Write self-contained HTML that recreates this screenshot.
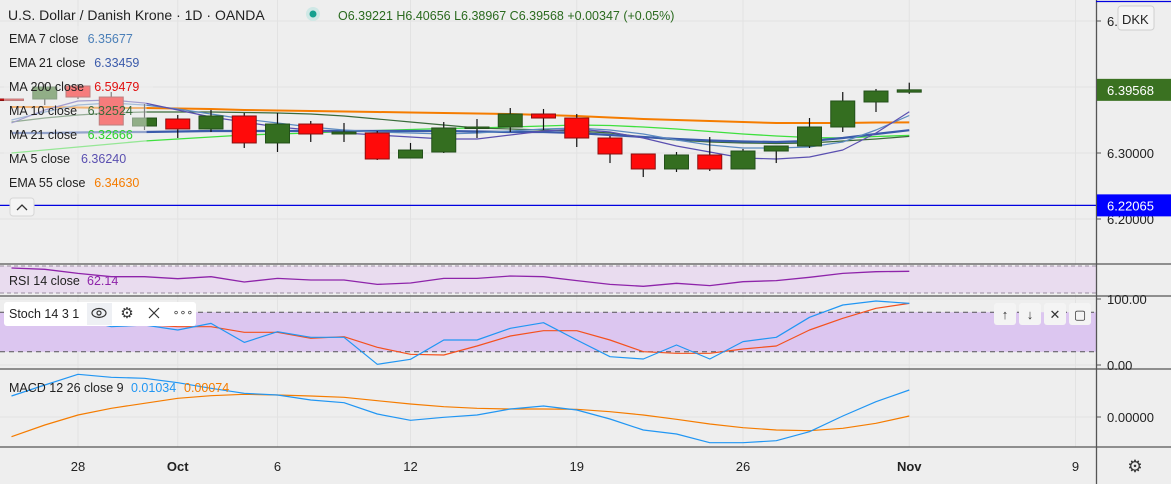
<!DOCTYPE html>
<html><head><meta charset="utf-8">
<style>
html,body{margin:0;padding:0;background:#eeeeee;}
body{width:1171px;height:484px;overflow:hidden;position:relative;font-family:"Liberation Sans","DejaVu Sans",sans-serif;}
svg{position:absolute;left:0;top:0;}
.t{font-family:"Liberation Sans","DejaVu Sans",sans-serif;}
</style></head>
<body>
<svg id="chart" width="1171" height="484" viewBox="0 0 1171 484" xmlns="http://www.w3.org/2000/svg"></svg>
<script>
// ---- data ----
const dates=["Sep 24","Sep 25","Sep 28","Sep 29","Sep 30","Oct 1","Oct 2","Oct 5","Oct 6","Oct 7","Oct 8","Oct 9","Oct 12","Oct 13","Oct 14","Oct 15","Oct 16","Oct 19","Oct 20","Oct 21","Oct 22","Oct 23","Oct 26","Oct 27","Oct 28","Oct 29","Oct 30","Nov 2"];
const opens=[6.3818,6.3818,6.4015,6.3848,6.3409,6.3515,6.3364,6.3561,6.3152,6.3439,6.3288,6.3303,6.2924,6.3015,6.3379,6.3394,6.3591,6.3530,6.3227,6.2985,6.2758,6.2970,6.2758,6.3030,6.3106,6.3394,6.3773,6.39221];
const highs=[6.3818,6.4045,6.4045,6.3924,6.3742,6.3576,6.3652,6.3606,6.3606,6.3485,6.3455,6.3333,6.3152,6.3470,6.3515,6.3682,6.3667,6.3591,6.3258,6.2985,6.3015,6.3242,6.3061,6.3106,6.3530,6.3924,6.3970,6.40656];
const lows=[6.3815,6.3727,6.3818,6.3424,6.3348,6.3227,6.3318,6.3076,6.3015,6.3167,6.3167,6.2894,6.2924,6.3000,6.3227,6.3318,6.3348,6.3091,6.2848,6.2636,6.2712,6.2727,6.2758,6.2848,6.3076,6.3318,6.3621,6.38967];
const closes=[6.3815,6.4000,6.3848,6.3424,6.3530,6.3364,6.3561,6.3152,6.3439,6.3288,6.3318,6.2909,6.3045,6.3379,6.3394,6.3591,6.3530,6.3227,6.2985,6.2758,6.2970,6.2758,6.3030,6.3106,6.3394,6.3788,6.3939,6.39568];
const ema55=[6.3697,6.3697,6.3689,6.3682,6.3682,6.3674,6.3667,6.3652,6.3644,6.3636,6.3629,6.3621,6.3614,6.3606,6.3598,6.3591,6.3576,6.3561,6.3538,6.3515,6.3500,6.3485,6.3470,6.3455,6.3455,6.3455,6.3462,6.3463];
const ma21=[6.3000,6.3045,6.3091,6.3136,6.3182,6.3212,6.3242,6.3273,6.3288,6.3303,6.3326,6.3341,6.3356,6.3371,6.3379,6.3394,6.3409,6.3424,6.3417,6.3394,6.3364,6.3326,6.3288,6.3258,6.3235,6.3227,6.3250,6.3267];
const ema21=[6.3303,6.3303,6.3311,6.3318,6.3318,6.3326,6.3333,6.3333,6.3333,6.3333,6.3333,6.3333,6.3333,6.3333,6.3326,6.3318,6.3318,6.3303,6.3273,6.3242,6.3212,6.3189,6.3174,6.3167,6.3182,6.3227,6.3288,6.3346];
const ma10=[6.3470,6.3530,6.3576,6.3606,6.3621,6.3621,6.3621,6.3614,6.3606,6.3591,6.3561,6.3515,6.3470,6.3424,6.3379,6.3364,6.3348,6.3333,6.3303,6.3242,6.3197,6.3167,6.3152,6.3144,6.3152,6.3182,6.3212,6.3252];
const ma5=[6.3455,6.3652,6.3788,6.3803,6.3758,6.3652,6.3545,6.3470,6.3394,6.3348,6.3303,6.3273,6.3242,6.3212,6.3212,6.3273,6.3333,6.3364,6.3318,6.3227,6.3106,6.3015,6.2924,6.2909,6.2939,6.3045,6.3303,6.3624];
const ema7=[6.3500,6.3621,6.3727,6.3758,6.3727,6.3667,6.3591,6.3515,6.3455,6.3394,6.3348,6.3318,6.3303,6.3288,6.3303,6.3333,6.3364,6.3379,6.3348,6.3288,6.3197,6.3121,6.3076,6.3076,6.3091,6.3167,6.3348,6.3568];
const rsi=[67,65.1,59.1,54.2,54.2,51.2,54.2,46.3,51.7,49.3,49.3,42.8,44.8,51.7,51.7,55.2,54.2,48.3,42.8,39.9,44.3,40.9,46.8,48.3,53.2,59.1,61.6,62.14];
const stochK=[72,75,70,58.1,60.6,53,63.1,34.3,50.5,41.9,41.9,1,8.6,37.9,37.9,55.6,64.1,37.9,12.6,9.1,30.3,9.1,35.4,41.9,72.2,90.9,97,93.4];
const stochD=[68,70,68,64,61,58.1,58.1,49.5,49.5,40.4,42.9,26.8,16.2,15.2,28.8,43.9,52,52,37.9,20.2,17.7,17.7,24.2,28.8,53,70.7,85.9,93.4];
const macd=[8.04,12.26,16.34,15.19,14.81,13.15,10.98,9.06,8.43,6.51,5.49,1.15,-1.28,-0.13,0.77,3.06,4.21,2.68,-0.77,-4.98,-6.51,-9.83,-9.83,-9.06,-5.62,0.38,5.87,10.34];
const signal=[-7.53,-3.06,0.77,3.32,5.23,7.15,8.17,8.68,8.43,8.04,7.53,6.26,4.98,3.96,3.32,3.06,3.06,2.94,2.04,0.77,-0.89,-2.68,-4.09,-4.98,-5.23,-4.34,-2.43,0.38];
const timeLabels=["28","Oct","6","12","19","26","Nov","9"];
const timeIdx=[2,5,8,12,17,22,27,32];
const priceTicks=[6.5,6.3,6.2];
const lastPrice=6.39568;
const hLinePrice=6.22065;

// ---- scales ----
const X=i=>78+(i-2)*33.25;
const PY=p=>153-(p-6.3)*660;
const RY=v=>266+(70-v)*0.675;
const SY=v=>365-v*0.66;
const MY=v=>417-v*2.611;

const svg=document.getElementById('chart');
const NS="http://www.w3.org/2000/svg";
function mk(tag,attrs,parent){const e=document.createElementNS(NS,tag);for(const k in attrs)e.setAttribute(k,attrs[k]);(parent||svg).appendChild(e);return e;}
function txt(s,x,y,attrs,parent){const e=mk('text',Object.assign({x:x,y:y,class:'t'},attrs),parent);e.textContent=s;return e;}

const defs=mk('defs',{});
const cp=mk('clipPath',{id:'cm'},defs);mk('rect',{x:0,y:0,width:1096,height:264},cp);
const cr=mk('clipPath',{id:'cr'},defs);mk('rect',{x:0,y:264,width:1096,height:32},cr);

// grid
const grid=mk('g',{});


timeIdx.forEach(i=>{mk('line',{x1:X(i),x2:X(i),y1:0,y2:447,stroke:'#e2e2e2','stroke-width':1},grid);});
[21,87,153,219].forEach(y=>mk('line',{x1:0,x2:1096,y1:y,y2:y,stroke:'#e2e2e2'},grid));
[299,332,365,417].forEach(y=>mk('line',{x1:0,x2:1096,y1:y,y2:y,stroke:'#e2e2e2'},grid));

const rsiBand=mk('rect',{x:0,y:266,width:1096,height:27,fill:'#e9dcef'});


mk('line',{x1:0,x2:1096,y1:266,y2:266,stroke:'#9a8ea0','stroke-dasharray':'4,3'});
mk('line',{x1:0,x2:1096,y1:293,y2:293,stroke:'#9a8ea0','stroke-dasharray':'4,3'});
const stBand=mk('rect',{x:0,y:SY(80),width:1096,height:SY(20)-SY(80),fill:'#dcc6f0'});


mk('line',{x1:0,x2:1096,y1:SY(80),y2:SY(80),stroke:'#555','stroke-dasharray':'5,4'});
mk('line',{x1:0,x2:1096,y1:SY(20),y2:SY(20),stroke:'#555','stroke-dasharray':'5,4'});

const hl=mk('line',{x1:0,x2:1096,y1:PY(hLinePrice),y2:PY(hLinePrice),stroke:'#0000e0','stroke-width':1.3});



function line(arr,yf,color,w,name,clip){
  const d=arr.map((v,i)=>(i?'L':'M')+X(i).toFixed(1)+','+yf(v).toFixed(1)).join('');
  const p=mk('path',{d:d,fill:'none',stroke:color,'stroke-width':w,'stroke-linejoin':'round'});
  if(clip)p.setAttribute('clip-path','url(#'+clip+')');
  
  
  return p;
}
line(ema55,PY,'#f57c00',2,'ema55-line','cm');
line(ma21,PY,'#3ee03e',1.3,'ma21-line','cm');
line(ma10,PY,'#3a6b3a',1.2,'ma10-line','cm');
line(ema21,PY,'#3b5bab',2.2,'ema21-line','cm');
line(ema7,PY,'#5c8ac0',1.2,'ema7-line','cm');
line(ma5,PY,'#5a4fb0',1.2,'ma5-line','cm');

const cg=mk('g',{'clip-path':'url(#cm)'});


dates.forEach((d,i)=>{
  const up=closes[i]>=opens[i];
  const x=X(i);
  const g=mk('g',{},cg);
  
  
  mk('line',{x1:x,x2:x,y1:PY(highs[i]),y2:PY(lows[i]),stroke:'#111','stroke-width':1.2},g);
  const top=PY(Math.max(opens[i],closes[i])),bot=PY(Math.min(opens[i],closes[i]));
  mk('rect',{x:x-12,y:top,width:24,height:Math.max(1.5,bot-top),fill:up?'#346e20':'#ff0a0a',stroke:up?'#23501a':'#8a1010','stroke-width':1},g);
});

line(rsi,RY,'#8e24aa',1.3,'rsi-line','cr');
line(stochD,SY,'#f4511e',1.2,'stoch-d-line');
line(stochK,SY,'#2196f3',1.2,'stoch-k-line');
line(signal,MY,'#f57c00',1.2,'macd-signal-line');
line(macd,MY,'#2196f3',1.2,'macd-line');

[264,296,369,447].forEach(y=>mk('line',{x1:0,x2:1171,y1:y,y2:y,stroke:'#555','stroke-width':1.3}));
mk('line',{x1:1096.5,x2:1096.5,y1:0,y2:484,stroke:'#555','stroke-width':1.3});
mk('line',{x1:1096,x2:1171,y1:1.5,y2:1.5,stroke:'#0000e0','stroke-width':1.3});

const pa=mk('g',{});


priceTicks.forEach(p=>{mk('line',{x1:1097,x2:1101,y1:PY(p),y2:PY(p),stroke:'#555'},pa);txt(p.toFixed(5),1107,PY(p)+5,{'font-size':13,fill:'#222'},pa);});
const lt=mk('rect',{x:1097,y:PY(lastPrice)-11,width:74,height:22,fill:'#3a7121'});


txt(lastPrice.toFixed(5),1107,PY(lastPrice)+5,{'font-size':13,fill:'#fff'});
const ht=mk('rect',{x:1097,y:PY(hLinePrice)-11,width:74,height:22,fill:'#0000ff'});


txt(hLinePrice.toFixed(5),1107,PY(hLinePrice)+5,{'font-size':13,fill:'#fff'});
const dk=mk('rect',{x:1118,y:6,width:36,height:24,rx:3,fill:'#f4f4f4',stroke:'#cfcfcf'});


txt('DKK',1122,24,{'font-size':13,fill:'#222'});
[[SY(100),'100.00'],[SY(0),'0.00'],[MY(0),'0.00000']].forEach(a=>{mk('line',{x1:1097,x2:1101,y1:a[0],y2:a[0],stroke:'#555'});txt(a[1],1107,a[0]+5,{'font-size':13,fill:'#222'});});

const ta=mk('g',{});


timeLabels.forEach((s,k)=>{const bold=(s==='Oct'||s==='Nov');txt(s,X(timeIdx[k]),471,{'font-size':13,fill:'#222','text-anchor':'middle','font-weight':bold?'bold':'normal'},ta);});
const gear=txt('⚙',1135,472,{'font-size':17,fill:'#333','text-anchor':'middle'});



const hd=txt('U.S. Dollar / Danish Krone · 1D · OANDA',8,20,{'font-size':14,fill:'#222'});


mk('circle',{cx:313,cy:14,r:7,fill:'#cfe8e6'});
mk('circle',{cx:313,cy:14,r:3.5,fill:'#14a08f'});
const ohlc=txt('O6.39221  H6.40656  L6.38967  C6.39568  +0.00347 (+0.05%)',338,20,{'font-size':12.5,fill:'#2a6a1e','xml:space':'preserve'});



const legend=[["EMA 7 close","6.35677","#4a7fb8"],["EMA 21 close","6.33459","#3b5bab"],["MA 200 close","6.59479","#e01010"],["MA 10 close","6.32524","#3a6b3a"],["MA 21 close","6.32666","#2ed32e"],["MA 5 close","6.36240","#5a4fb0"],["EMA 55 close","6.34630","#f57c00"]];
legend.forEach((l,k)=>{
  const y=38+k*24;
  const g=mk('g',{});
  
  
  const w=l[0].length*6.6+70;
  mk('rect',{x:4,y:y-12,width:w,height:24,fill:'rgba(238,238,238,0.5)'},g);
  txt(l[0],9,y+5,{'font-size':12.5,fill:'#222'},g);
  txt(l[1],9+l[0].length*6.6+6,y+5,{'font-size':12.5,fill:l[2]},g);
});
const col=mk('rect',{x:10,y:198,width:24,height:18,rx:3,fill:'#f4f4f4',stroke:'#d6d6d6'});


mk('path',{d:'M17,210 L22,205 L27,210',fill:'none',stroke:'#333','stroke-width':1.3});

const rl=mk('g',{});


txt('RSI 14 close',9,285,{'font-size':12.5,fill:'#222'},rl);
txt('62.14',87,285,{'font-size':12.5,fill:'#8e24aa'},rl);

const sl=mk('g',{});


mk('rect',{x:4,y:302,width:192,height:24,rx:3,fill:'#ffffff'},sl);
mk('rect',{x:87,y:303,width:25,height:22,fill:'#eef0f4'},sl);
txt('Stoch 14 3 1',9,318,{'font-size':12.5,fill:'#222'},sl);
const eye=mk('g',{},sl);
mk('ellipse',{cx:99,cy:313,rx:7,ry:4.5,fill:'none',stroke:'#333','stroke-width':1.2},eye);
mk('circle',{cx:99,cy:313,r:2,fill:'none',stroke:'#333','stroke-width':1.2},eye);
const sg=txt('⚙',127,318,{'font-size':15,fill:'#333','text-anchor':'middle'},sl);
const sx=mk('path',{d:'M149,308 L159,318 M159,308 L149,318',stroke:'#333','stroke-width':1.2},sl);
const sm=txt('∘∘∘',183,316,{'font-size':11,fill:'#333','text-anchor':'middle'},sl);

[['↑','move-up-button'],['↓','move-down-button'],['✕','close-pane-button'],['▢','maximize-pane-button']].forEach((b,k)=>{
  const x=994+k*25;
  const g=mk('g',{});
  
  
  mk('rect',{x:x,y:303,width:22,height:22,rx:3,fill:'#f4f4f4'},g);
  txt(b[0],x+11,319,{'font-size':13,fill:'#333','text-anchor':'middle'},g);
});

const ml=mk('g',{});


txt('MACD 12 26 close 9',9,392,{'font-size':12.5,fill:'#222'},ml);
txt('0.01034',131,392,{'font-size':12.5,fill:'#2196f3'},ml);
txt('0.00074',184,392,{'font-size':12.5,fill:'#f57c00'},ml);
</script>
</body></html>
